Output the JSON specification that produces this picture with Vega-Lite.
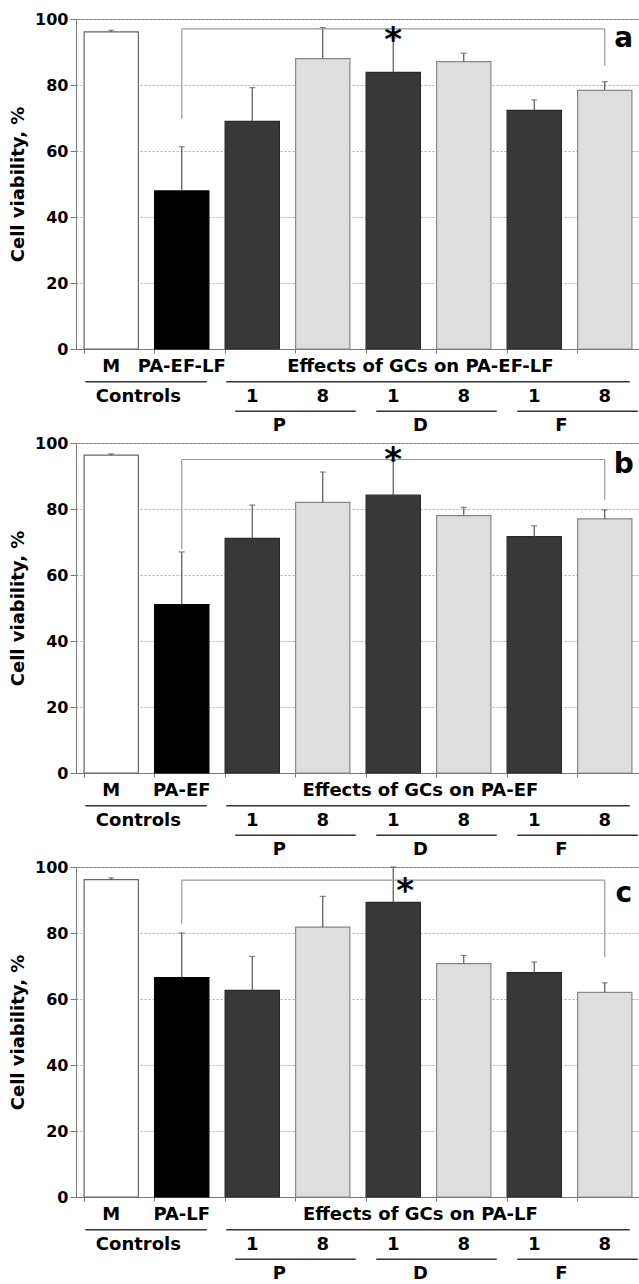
{
  "$schema": "https://vega.github.io/schema/vega-lite/v6.json",
  "padding": {"top": 10, "left": 9, "right": 0, "bottom": 0},
  "config": {"font": "DejaVu Sans", "view": {"stroke": "#777"}},
  "datasets": {
    "bars": [
      {"panel": "a", "cat": "M", "grp": "ctrl", "value": 96.1, "upper": 96.6},
      {"panel": "a", "cat": "PA", "grp": "pos", "value": 47.9, "upper": 61.3},
      {"panel": "a", "cat": "P1", "grp": "h1", "value": 69.0, "upper": 79.2},
      {"panel": "a", "cat": "P8", "grp": "h8", "value": 88.0, "upper": 97.4},
      {"panel": "a", "cat": "D1", "grp": "h1", "value": 83.8, "upper": 94.3},
      {"panel": "a", "cat": "D8", "grp": "h8", "value": 87.1, "upper": 89.6},
      {"panel": "a", "cat": "F1", "grp": "h1", "value": 72.3, "upper": 75.5},
      {"panel": "a", "cat": "F8", "grp": "h8", "value": 78.4, "upper": 81.0},
      {"panel": "b", "cat": "M", "grp": "ctrl", "value": 96.3, "upper": 96.7},
      {"panel": "b", "cat": "PA", "grp": "pos", "value": 51.0, "upper": 67.0},
      {"panel": "b", "cat": "P1", "grp": "h1", "value": 71.1, "upper": 81.2},
      {"panel": "b", "cat": "P8", "grp": "h8", "value": 82.0, "upper": 91.2},
      {"panel": "b", "cat": "D1", "grp": "h1", "value": 84.2, "upper": 94.7},
      {"panel": "b", "cat": "D8", "grp": "h8", "value": 78.0, "upper": 80.5},
      {"panel": "b", "cat": "F1", "grp": "h1", "value": 71.6, "upper": 74.9},
      {"panel": "b", "cat": "F8", "grp": "h8", "value": 77.0, "upper": 79.7},
      {"panel": "c", "cat": "M", "grp": "ctrl", "value": 96.2, "upper": 96.7},
      {"panel": "c", "cat": "PA", "grp": "pos", "value": 66.5, "upper": 80.0},
      {"panel": "c", "cat": "P1", "grp": "h1", "value": 62.6, "upper": 72.9},
      {"panel": "c", "cat": "P8", "grp": "h8", "value": 81.8, "upper": 91.1},
      {"panel": "c", "cat": "D1", "grp": "h1", "value": 89.3, "upper": 100.0},
      {"panel": "c", "cat": "D8", "grp": "h8", "value": 70.7, "upper": 73.2},
      {"panel": "c", "cat": "F1", "grp": "h1", "value": 68.0, "upper": 71.2},
      {"panel": "c", "cat": "F8", "grp": "h8", "value": 62.0, "upper": 64.9}
    ],
    "brackets": [
      {"panel": "a", "from": "PA", "to": "F8", "top": 97.0, "left": 69.7, "right": 85.8},
      {"panel": "b", "from": "PA", "to": "F8", "top": 95.0, "left": 67.8, "right": 82.8},
      {"panel": "c", "from": "PA", "to": "F8", "top": 96.0, "left": 82.8, "right": 72.7}
    ],
    "notes": [
      {"panel": "a", "kind": "star", "cat": "D1", "y": 96.1, "text": "*"},
      {"panel": "b", "kind": "star", "cat": "D1", "y": 97.2, "text": "*"},
      {"panel": "c", "kind": "star", "cat": "D1", "y": 95.2, "text": "*"},
      {"panel": "a", "kind": "letter", "cat": "F8", "y": 94.0, "text": "a"},
      {"panel": "b", "kind": "letter", "cat": "F8", "y": 93.2, "text": "b"},
      {"panel": "c", "kind": "letter", "cat": "F8", "y": 91.8, "text": "c"}
    ],
    "labels": [
      {"panel": "a", "kind": "item", "row": "r1", "cat": "M", "text": "M"},
      {"panel": "a", "kind": "item", "row": "r1", "cat": "PA", "text": "PA-EF-LF"},
      {"panel": "a", "kind": "group", "row": "r1", "cat": "D1", "text": "Effects of GCs on PA-EF-LF"},
      {"panel": "a", "kind": "group", "row": "r2", "cat": "M", "text": "Controls"},
      {"panel": "a", "kind": "item", "row": "r2", "cat": "P1", "text": "1"},
      {"panel": "a", "kind": "item", "row": "r2", "cat": "P8", "text": "8"},
      {"panel": "a", "kind": "item", "row": "r2", "cat": "D1", "text": "1"},
      {"panel": "a", "kind": "item", "row": "r2", "cat": "D8", "text": "8"},
      {"panel": "a", "kind": "item", "row": "r2", "cat": "F1", "text": "1"},
      {"panel": "a", "kind": "item", "row": "r2", "cat": "F8", "text": "8"},
      {"panel": "a", "kind": "group", "row": "r3", "cat": "P1", "text": "P"},
      {"panel": "a", "kind": "group", "row": "r3", "cat": "D1", "text": "D"},
      {"panel": "a", "kind": "group", "row": "r3", "cat": "F1", "text": "F"},
      {"panel": "b", "kind": "item", "row": "r1", "cat": "M", "text": "M"},
      {"panel": "b", "kind": "item", "row": "r1", "cat": "PA", "text": "PA-EF"},
      {"panel": "b", "kind": "group", "row": "r1", "cat": "D1", "text": "Effects of GCs on PA-EF"},
      {"panel": "b", "kind": "group", "row": "r2", "cat": "M", "text": "Controls"},
      {"panel": "b", "kind": "item", "row": "r2", "cat": "P1", "text": "1"},
      {"panel": "b", "kind": "item", "row": "r2", "cat": "P8", "text": "8"},
      {"panel": "b", "kind": "item", "row": "r2", "cat": "D1", "text": "1"},
      {"panel": "b", "kind": "item", "row": "r2", "cat": "D8", "text": "8"},
      {"panel": "b", "kind": "item", "row": "r2", "cat": "F1", "text": "1"},
      {"panel": "b", "kind": "item", "row": "r2", "cat": "F8", "text": "8"},
      {"panel": "b", "kind": "group", "row": "r3", "cat": "P1", "text": "P"},
      {"panel": "b", "kind": "group", "row": "r3", "cat": "D1", "text": "D"},
      {"panel": "b", "kind": "group", "row": "r3", "cat": "F1", "text": "F"},
      {"panel": "c", "kind": "item", "row": "r1", "cat": "M", "text": "M"},
      {"panel": "c", "kind": "item", "row": "r1", "cat": "PA", "text": "PA-LF"},
      {"panel": "c", "kind": "group", "row": "r1", "cat": "D1", "text": "Effects of GCs on PA-LF"},
      {"panel": "c", "kind": "group", "row": "r2", "cat": "M", "text": "Controls"},
      {"panel": "c", "kind": "item", "row": "r2", "cat": "P1", "text": "1"},
      {"panel": "c", "kind": "item", "row": "r2", "cat": "P8", "text": "8"},
      {"panel": "c", "kind": "item", "row": "r2", "cat": "D1", "text": "1"},
      {"panel": "c", "kind": "item", "row": "r2", "cat": "D8", "text": "8"},
      {"panel": "c", "kind": "item", "row": "r2", "cat": "F1", "text": "1"},
      {"panel": "c", "kind": "item", "row": "r2", "cat": "F8", "text": "8"},
      {"panel": "c", "kind": "group", "row": "r3", "cat": "P1", "text": "P"},
      {"panel": "c", "kind": "group", "row": "r3", "cat": "D1", "text": "D"},
      {"panel": "c", "kind": "group", "row": "r3", "cat": "F1", "text": "F"}
    ],
    "lines": [
      {"panel": "a", "level": 1, "row": "u1", "from": "M", "to": "PA"},
      {"panel": "a", "level": 1, "row": "u1", "from": "P1", "to": "F8"},
      {"panel": "a", "level": 2, "row": "u2", "from": "P1", "to": "P8"},
      {"panel": "a", "level": 2, "row": "u2", "from": "D1", "to": "D8"},
      {"panel": "a", "level": 2, "row": "u2", "from": "F1", "to": "F8"},
      {"panel": "b", "level": 1, "row": "u1", "from": "M", "to": "PA"},
      {"panel": "b", "level": 1, "row": "u1", "from": "P1", "to": "F8"},
      {"panel": "b", "level": 2, "row": "u2", "from": "P1", "to": "P8"},
      {"panel": "b", "level": 2, "row": "u2", "from": "D1", "to": "D8"},
      {"panel": "b", "level": 2, "row": "u2", "from": "F1", "to": "F8"},
      {"panel": "c", "level": 1, "row": "u1", "from": "M", "to": "PA"},
      {"panel": "c", "level": 1, "row": "u1", "from": "P1", "to": "F8"},
      {"panel": "c", "level": 2, "row": "u2", "from": "P1", "to": "P8"},
      {"panel": "c", "level": 2, "row": "u2", "from": "D1", "to": "D8"},
      {"panel": "c", "level": 2, "row": "u2", "from": "F1", "to": "F8"}
    ]
  },
  "spacing": 0,
  "bounds": "flush",
  "vconcat": [
    {
      "width": 564,
      "height": 330,
      "layer": [
        {
          "data": {"name": "bars"},
          "transform": [{"filter": "datum.panel === 'a'"}],
          "mark": {"type": "bar", "strokeWidth": 1.2},
          "encoding": {
            "x": {"field": "cat", "type": "nominal", "title": null, "scale": {"domain": ["M", "PA", "P1", "P8", "D1", "D8", "F1", "F8"], "paddingInner": 0.23, "paddingOuter": 0.115}, "axis": {"labels": false, "title": null, "bandPosition": 0, "tickSize": 4, "tickColor": "#777", "domainColor": "#777", "grid": false}},
            "y": {"field": "value", "type": "quantitative", "title": "Cell viability, %", "scale": {"domain": [0, 100], "nice": false}, "axis": {"values": [0, 20, 40, 60, 80, 100], "titleFontSize": 18, "titleFontWeight": "bold", "titleColor": "#000", "titlePadding": 7, "labelFontSize": 16, "labelFontWeight": "bold", "labelColor": "#000", "labelPadding": 2, "tickSize": 6, "tickColor": "#777", "domainColor": "#777", "grid": true, "gridDash": [2, 2], "gridColor": "#aaa"}},
            "fill": {"field": "grp", "type": "nominal", "legend": null, "scale": {"domain": ["ctrl", "pos", "h1", "h8"], "range": ["#ffffff", "#000000", "#383838", "#dedede"]}},
            "stroke": {"field": "grp", "type": "nominal", "legend": null, "scale": {"domain": ["ctrl", "pos", "h1", "h8"], "range": ["#666666", "#000000", "#2a2a2a", "#888888"]}}
          }
        },
        {
          "data": {"name": "bars"},
          "transform": [{"filter": "datum.panel === 'a'"}],
          "mark": {"type": "rule", "color": "#555", "strokeWidth": 1.2},
          "encoding": {
            "x": {"field": "cat", "type": "nominal", "title": null},
            "y": {"field": "value", "type": "quantitative", "title": "Cell viability, %"},
            "y2": {"field": "upper"}
          }
        },
        {
          "data": {"name": "bars"},
          "transform": [{"filter": "datum.panel === 'a'"}],
          "mark": {"type": "tick", "color": "#555", "size": 6, "thickness": 1.2},
          "encoding": {
            "x": {"field": "cat", "type": "nominal", "title": null},
            "y": {"field": "upper", "type": "quantitative", "title": "Cell viability, %"}
          }
        },
        {
          "data": {"name": "brackets"},
          "transform": [{"filter": "datum.panel === 'a'"}],
          "mark": {"type": "rule", "color": "#999", "strokeWidth": 1.2},
          "encoding": {
            "x": {"field": "from", "type": "nominal", "title": null},
            "x2": {"field": "to"},
            "y": {"field": "top", "type": "quantitative", "title": "Cell viability, %"}
          }
        },
        {
          "data": {"name": "brackets"},
          "transform": [{"filter": "datum.panel === 'a'"}],
          "mark": {"type": "rule", "color": "#999", "strokeWidth": 1.2},
          "encoding": {
            "x": {"field": "from", "type": "nominal", "title": null},
            "y": {"field": "left", "type": "quantitative", "title": "Cell viability, %"},
            "y2": {"field": "top"}
          }
        },
        {
          "data": {"name": "brackets"},
          "transform": [{"filter": "datum.panel === 'a'"}],
          "mark": {"type": "rule", "color": "#999", "strokeWidth": 1.2},
          "encoding": {
            "x": {"field": "to", "type": "nominal", "title": null},
            "y": {"field": "right", "type": "quantitative", "title": "Cell viability, %"},
            "y2": {"field": "top"}
          }
        },
        {
          "data": {"name": "notes"},
          "transform": [{"filter": "datum.panel === 'a' && datum.kind === 'star'"}],
          "mark": {"type": "text", "fontSize": 34, "fontWeight": "bold", "color": "#000", "baseline": "middle", "dy": 9},
          "encoding": {
            "x": {"field": "cat", "type": "nominal", "title": null},
            "y": {"field": "y", "type": "quantitative", "title": "Cell viability, %"},
            "text": {"field": "text"}
          }
        },
        {
          "data": {"name": "notes"},
          "transform": [{"filter": "datum.panel === 'a' && datum.kind === 'letter'"}],
          "mark": {"type": "text", "fontSize": 28, "fontWeight": "bold", "color": "#000", "baseline": "middle", "dx": 19},
          "encoding": {
            "x": {"field": "cat", "type": "nominal", "title": null},
            "y": {"field": "y", "type": "quantitative", "title": "Cell viability, %"},
            "text": {"field": "text"}
          }
        }
      ]
    },
    {
      "width": 564,
      "height": 94,
      "view": {"stroke": null},
      "layer": [
        {
          "data": {"name": "labels"},
          "transform": [{"filter": "datum.panel === 'a' && datum.kind === 'item'"}],
          "mark": {"type": "text", "fontSize": 18, "fontWeight": "bold", "color": "#000", "baseline": "middle"},
          "encoding": {
            "x": {"field": "cat", "type": "nominal", "axis": null, "scale": {"domain": ["M", "PA", "P1", "P8", "D1", "D8", "F1", "F8"], "paddingInner": 0.23, "paddingOuter": 0.115}},
            "y": {"field": "row", "type": "ordinal", "axis": null, "scale": {"type": "point", "domain": ["r1", "u1", "r2", "u2", "r3"], "range": [18, 77], "padding": 0}},
            "text": {"field": "text"}
          }
        },
        {
          "data": {"name": "labels"},
          "transform": [{"filter": "datum.panel === 'a' && datum.kind === 'group'"}],
          "mark": {"type": "text", "fontSize": 18, "fontWeight": "bold", "color": "#000", "baseline": "middle"},
          "encoding": {
            "x": {"field": "cat", "type": "nominal", "axis": null, "bandPosition": 1},
            "y": {"field": "row", "type": "ordinal", "axis": null},
            "text": {"field": "text"}
          }
        },
        {
          "data": {"name": "lines"},
          "transform": [{"filter": "datum.panel === 'a' && datum.level === 1"}],
          "mark": {"type": "rule", "color": "#333", "strokeWidth": 1.5, "xOffset": -26, "x2Offset": 25},
          "encoding": {
            "x": {"field": "from", "type": "nominal", "axis": null},
            "x2": {"field": "to"},
            "y": {"field": "row", "type": "ordinal", "axis": null}
          }
        },
        {
          "data": {"name": "lines"},
          "transform": [{"filter": "datum.panel === 'a' && datum.level === 2"}],
          "mark": {"type": "rule", "color": "#333", "strokeWidth": 1.5, "xOffset": -17, "x2Offset": 33},
          "encoding": {
            "x": {"field": "from", "type": "nominal", "axis": null},
            "x2": {"field": "to"},
            "y": {"field": "row", "type": "ordinal", "axis": null}
          }
        }
      ]
    },
    {
      "width": 564,
      "height": 330,
      "layer": [
        {
          "data": {"name": "bars"},
          "transform": [{"filter": "datum.panel === 'b'"}],
          "mark": {"type": "bar", "strokeWidth": 1.2},
          "encoding": {
            "x": {"field": "cat", "type": "nominal", "title": null, "scale": {"domain": ["M", "PA", "P1", "P8", "D1", "D8", "F1", "F8"], "paddingInner": 0.23, "paddingOuter": 0.115}, "axis": {"labels": false, "title": null, "bandPosition": 0, "tickSize": 4, "tickColor": "#777", "domainColor": "#777", "grid": false}},
            "y": {"field": "value", "type": "quantitative", "title": "Cell viability, %", "scale": {"domain": [0, 100], "nice": false}, "axis": {"values": [0, 20, 40, 60, 80, 100], "titleFontSize": 18, "titleFontWeight": "bold", "titleColor": "#000", "titlePadding": 7, "labelFontSize": 16, "labelFontWeight": "bold", "labelColor": "#000", "labelPadding": 2, "tickSize": 6, "tickColor": "#777", "domainColor": "#777", "grid": true, "gridDash": [2, 2], "gridColor": "#aaa"}},
            "fill": {"field": "grp", "type": "nominal", "legend": null, "scale": {"domain": ["ctrl", "pos", "h1", "h8"], "range": ["#ffffff", "#000000", "#383838", "#dedede"]}},
            "stroke": {"field": "grp", "type": "nominal", "legend": null, "scale": {"domain": ["ctrl", "pos", "h1", "h8"], "range": ["#666666", "#000000", "#2a2a2a", "#888888"]}}
          }
        },
        {
          "data": {"name": "bars"},
          "transform": [{"filter": "datum.panel === 'b'"}],
          "mark": {"type": "rule", "color": "#555", "strokeWidth": 1.2},
          "encoding": {
            "x": {"field": "cat", "type": "nominal", "title": null},
            "y": {"field": "value", "type": "quantitative", "title": "Cell viability, %"},
            "y2": {"field": "upper"}
          }
        },
        {
          "data": {"name": "bars"},
          "transform": [{"filter": "datum.panel === 'b'"}],
          "mark": {"type": "tick", "color": "#555", "size": 6, "thickness": 1.2},
          "encoding": {
            "x": {"field": "cat", "type": "nominal", "title": null},
            "y": {"field": "upper", "type": "quantitative", "title": "Cell viability, %"}
          }
        },
        {
          "data": {"name": "brackets"},
          "transform": [{"filter": "datum.panel === 'b'"}],
          "mark": {"type": "rule", "color": "#999", "strokeWidth": 1.2},
          "encoding": {
            "x": {"field": "from", "type": "nominal", "title": null},
            "x2": {"field": "to"},
            "y": {"field": "top", "type": "quantitative", "title": "Cell viability, %"}
          }
        },
        {
          "data": {"name": "brackets"},
          "transform": [{"filter": "datum.panel === 'b'"}],
          "mark": {"type": "rule", "color": "#999", "strokeWidth": 1.2},
          "encoding": {
            "x": {"field": "from", "type": "nominal", "title": null},
            "y": {"field": "left", "type": "quantitative", "title": "Cell viability, %"},
            "y2": {"field": "top"}
          }
        },
        {
          "data": {"name": "brackets"},
          "transform": [{"filter": "datum.panel === 'b'"}],
          "mark": {"type": "rule", "color": "#999", "strokeWidth": 1.2},
          "encoding": {
            "x": {"field": "to", "type": "nominal", "title": null},
            "y": {"field": "right", "type": "quantitative", "title": "Cell viability, %"},
            "y2": {"field": "top"}
          }
        },
        {
          "data": {"name": "notes"},
          "transform": [{"filter": "datum.panel === 'b' && datum.kind === 'star'"}],
          "mark": {"type": "text", "fontSize": 34, "fontWeight": "bold", "color": "#000", "baseline": "middle", "dy": 9},
          "encoding": {
            "x": {"field": "cat", "type": "nominal", "title": null},
            "y": {"field": "y", "type": "quantitative", "title": "Cell viability, %"},
            "text": {"field": "text"}
          }
        },
        {
          "data": {"name": "notes"},
          "transform": [{"filter": "datum.panel === 'b' && datum.kind === 'letter'"}],
          "mark": {"type": "text", "fontSize": 28, "fontWeight": "bold", "color": "#000", "baseline": "middle", "dx": 19},
          "encoding": {
            "x": {"field": "cat", "type": "nominal", "title": null},
            "y": {"field": "y", "type": "quantitative", "title": "Cell viability, %"},
            "text": {"field": "text"}
          }
        }
      ]
    },
    {
      "width": 564,
      "height": 94,
      "view": {"stroke": null},
      "layer": [
        {
          "data": {"name": "labels"},
          "transform": [{"filter": "datum.panel === 'b' && datum.kind === 'item'"}],
          "mark": {"type": "text", "fontSize": 18, "fontWeight": "bold", "color": "#000", "baseline": "middle"},
          "encoding": {
            "x": {"field": "cat", "type": "nominal", "axis": null, "scale": {"domain": ["M", "PA", "P1", "P8", "D1", "D8", "F1", "F8"], "paddingInner": 0.23, "paddingOuter": 0.115}},
            "y": {"field": "row", "type": "ordinal", "axis": null, "scale": {"type": "point", "domain": ["r1", "u1", "r2", "u2", "r3"], "range": [18, 77], "padding": 0}},
            "text": {"field": "text"}
          }
        },
        {
          "data": {"name": "labels"},
          "transform": [{"filter": "datum.panel === 'b' && datum.kind === 'group'"}],
          "mark": {"type": "text", "fontSize": 18, "fontWeight": "bold", "color": "#000", "baseline": "middle"},
          "encoding": {
            "x": {"field": "cat", "type": "nominal", "axis": null, "bandPosition": 1},
            "y": {"field": "row", "type": "ordinal", "axis": null},
            "text": {"field": "text"}
          }
        },
        {
          "data": {"name": "lines"},
          "transform": [{"filter": "datum.panel === 'b' && datum.level === 1"}],
          "mark": {"type": "rule", "color": "#333", "strokeWidth": 1.5, "xOffset": -26, "x2Offset": 25},
          "encoding": {
            "x": {"field": "from", "type": "nominal", "axis": null},
            "x2": {"field": "to"},
            "y": {"field": "row", "type": "ordinal", "axis": null}
          }
        },
        {
          "data": {"name": "lines"},
          "transform": [{"filter": "datum.panel === 'b' && datum.level === 2"}],
          "mark": {"type": "rule", "color": "#333", "strokeWidth": 1.5, "xOffset": -17, "x2Offset": 33},
          "encoding": {
            "x": {"field": "from", "type": "nominal", "axis": null},
            "x2": {"field": "to"},
            "y": {"field": "row", "type": "ordinal", "axis": null}
          }
        }
      ]
    },
    {
      "width": 564,
      "height": 330,
      "layer": [
        {
          "data": {"name": "bars"},
          "transform": [{"filter": "datum.panel === 'c'"}],
          "mark": {"type": "bar", "strokeWidth": 1.2},
          "encoding": {
            "x": {"field": "cat", "type": "nominal", "title": null, "scale": {"domain": ["M", "PA", "P1", "P8", "D1", "D8", "F1", "F8"], "paddingInner": 0.23, "paddingOuter": 0.115}, "axis": {"labels": false, "title": null, "bandPosition": 0, "tickSize": 4, "tickColor": "#777", "domainColor": "#777", "grid": false}},
            "y": {"field": "value", "type": "quantitative", "title": "Cell viability, %", "scale": {"domain": [0, 100], "nice": false}, "axis": {"values": [0, 20, 40, 60, 80, 100], "titleFontSize": 18, "titleFontWeight": "bold", "titleColor": "#000", "titlePadding": 7, "labelFontSize": 16, "labelFontWeight": "bold", "labelColor": "#000", "labelPadding": 2, "tickSize": 6, "tickColor": "#777", "domainColor": "#777", "grid": true, "gridDash": [2, 2], "gridColor": "#aaa"}},
            "fill": {"field": "grp", "type": "nominal", "legend": null, "scale": {"domain": ["ctrl", "pos", "h1", "h8"], "range": ["#ffffff", "#000000", "#383838", "#dedede"]}},
            "stroke": {"field": "grp", "type": "nominal", "legend": null, "scale": {"domain": ["ctrl", "pos", "h1", "h8"], "range": ["#666666", "#000000", "#2a2a2a", "#888888"]}}
          }
        },
        {
          "data": {"name": "bars"},
          "transform": [{"filter": "datum.panel === 'c'"}],
          "mark": {"type": "rule", "color": "#555", "strokeWidth": 1.2},
          "encoding": {
            "x": {"field": "cat", "type": "nominal", "title": null},
            "y": {"field": "value", "type": "quantitative", "title": "Cell viability, %"},
            "y2": {"field": "upper"}
          }
        },
        {
          "data": {"name": "bars"},
          "transform": [{"filter": "datum.panel === 'c'"}],
          "mark": {"type": "tick", "color": "#555", "size": 6, "thickness": 1.2},
          "encoding": {
            "x": {"field": "cat", "type": "nominal", "title": null},
            "y": {"field": "upper", "type": "quantitative", "title": "Cell viability, %"}
          }
        },
        {
          "data": {"name": "brackets"},
          "transform": [{"filter": "datum.panel === 'c'"}],
          "mark": {"type": "rule", "color": "#999", "strokeWidth": 1.2},
          "encoding": {
            "x": {"field": "from", "type": "nominal", "title": null},
            "x2": {"field": "to"},
            "y": {"field": "top", "type": "quantitative", "title": "Cell viability, %"}
          }
        },
        {
          "data": {"name": "brackets"},
          "transform": [{"filter": "datum.panel === 'c'"}],
          "mark": {"type": "rule", "color": "#999", "strokeWidth": 1.2},
          "encoding": {
            "x": {"field": "from", "type": "nominal", "title": null},
            "y": {"field": "left", "type": "quantitative", "title": "Cell viability, %"},
            "y2": {"field": "top"}
          }
        },
        {
          "data": {"name": "brackets"},
          "transform": [{"filter": "datum.panel === 'c'"}],
          "mark": {"type": "rule", "color": "#999", "strokeWidth": 1.2},
          "encoding": {
            "x": {"field": "to", "type": "nominal", "title": null},
            "y": {"field": "right", "type": "quantitative", "title": "Cell viability, %"},
            "y2": {"field": "top"}
          }
        },
        {
          "data": {"name": "notes"},
          "transform": [{"filter": "datum.panel === 'c' && datum.kind === 'star'"}],
          "mark": {"type": "text", "fontSize": 34, "fontWeight": "bold", "color": "#000", "baseline": "middle", "dy": 9, "dx": 12},
          "encoding": {
            "x": {"field": "cat", "type": "nominal", "title": null},
            "y": {"field": "y", "type": "quantitative", "title": "Cell viability, %"},
            "text": {"field": "text"}
          }
        },
        {
          "data": {"name": "notes"},
          "transform": [{"filter": "datum.panel === 'c' && datum.kind === 'letter'"}],
          "mark": {"type": "text", "fontSize": 28, "fontWeight": "bold", "color": "#000", "baseline": "middle", "dx": 19},
          "encoding": {
            "x": {"field": "cat", "type": "nominal", "title": null},
            "y": {"field": "y", "type": "quantitative", "title": "Cell viability, %"},
            "text": {"field": "text"}
          }
        }
      ]
    },
    {
      "width": 564,
      "height": 88,
      "view": {"stroke": null},
      "layer": [
        {
          "data": {"name": "labels"},
          "transform": [{"filter": "datum.panel === 'c' && datum.kind === 'item'"}],
          "mark": {"type": "text", "fontSize": 18, "fontWeight": "bold", "color": "#000", "baseline": "middle"},
          "encoding": {
            "x": {"field": "cat", "type": "nominal", "axis": null, "scale": {"domain": ["M", "PA", "P1", "P8", "D1", "D8", "F1", "F8"], "paddingInner": 0.23, "paddingOuter": 0.115}},
            "y": {"field": "row", "type": "ordinal", "axis": null, "scale": {"type": "point", "domain": ["r1", "u1", "r2", "u2", "r3"], "range": [18, 77], "padding": 0}},
            "text": {"field": "text"}
          }
        },
        {
          "data": {"name": "labels"},
          "transform": [{"filter": "datum.panel === 'c' && datum.kind === 'group'"}],
          "mark": {"type": "text", "fontSize": 18, "fontWeight": "bold", "color": "#000", "baseline": "middle"},
          "encoding": {
            "x": {"field": "cat", "type": "nominal", "axis": null, "bandPosition": 1},
            "y": {"field": "row", "type": "ordinal", "axis": null},
            "text": {"field": "text"}
          }
        },
        {
          "data": {"name": "lines"},
          "transform": [{"filter": "datum.panel === 'c' && datum.level === 1"}],
          "mark": {"type": "rule", "color": "#333", "strokeWidth": 1.5, "xOffset": -26, "x2Offset": 25},
          "encoding": {
            "x": {"field": "from", "type": "nominal", "axis": null},
            "x2": {"field": "to"},
            "y": {"field": "row", "type": "ordinal", "axis": null}
          }
        },
        {
          "data": {"name": "lines"},
          "transform": [{"filter": "datum.panel === 'c' && datum.level === 2"}],
          "mark": {"type": "rule", "color": "#333", "strokeWidth": 1.5, "xOffset": -17, "x2Offset": 33},
          "encoding": {
            "x": {"field": "from", "type": "nominal", "axis": null},
            "x2": {"field": "to"},
            "y": {"field": "row", "type": "ordinal", "axis": null}
          }
        }
      ]
    }
  ]
}
